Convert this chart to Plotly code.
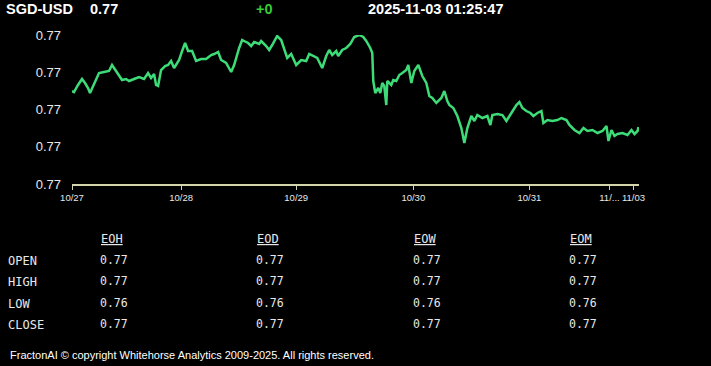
import plotly.graph_objects as go

# ---------------- data ----------------
PAIR = "SGD-USD"
LAST = "0.77"
CHANGE = "+0"
STAMP = "2025-11-03 01:25:47"

BAR_INDEX = [0, 2, 6, 10, 13, 16, 18, 22, 27, 32, 37, 40, 44, 47, 50, 54, 57, 62, 67, 72,
             76, 79, 82, 84, 86, 89, 93, 96, 99, 102, 107, 110, 113, 116, 120, 124, 129, 134, 139, 142,
             146, 149, 154, 159, 162, 167, 170, 172, 176, 179, 182, 187, 189, 194, 197, 200, 205, 209, 212, 215,
             219, 222, 224, 229, 234, 237, 241, 245, 249, 250, 254, 257, 260, 264, 266, 270, 274, 278, 282, 287,
             291, 294, 298, 300, 301, 303, 306, 308, 310, 312, 314, 315, 319, 321, 324, 327, 330, 334, 336, 339,
             342, 346, 350, 354, 357, 360, 364, 369, 372, 375, 377, 381, 385, 389, 392, 395, 399, 402, 405, 410,
             415, 418, 420, 425, 430, 434, 439, 444, 447, 450, 454, 458, 461, 465, 469, 471, 475, 480, 485, 489,
             494, 497, 502, 507, 511, 515, 520, 525, 530, 534, 536, 539, 542, 545, 550, 555, 559, 562, 565, 566]

PRICE = [0.76893, 0.76892, 0.76899, 0.76905, 0.76901, 0.76896, 0.76891, 0.76900, 0.76911, 0.76912,
         0.76913, 0.76919, 0.76913, 0.76909, 0.76904, 0.76905, 0.76903, 0.76905, 0.76907, 0.76905,
         0.76911, 0.76906, 0.76910, 0.76899, 0.76898, 0.76914, 0.76918, 0.76919, 0.76923, 0.76916,
         0.76924, 0.76933, 0.76941, 0.76933, 0.76933, 0.76923, 0.76925, 0.76925, 0.76929, 0.76930,
         0.76932, 0.76924, 0.76921, 0.76912, 0.76919, 0.76936, 0.76944, 0.76943, 0.76941, 0.76938,
         0.76942, 0.76940, 0.76943, 0.76938, 0.76934, 0.76939, 0.76948, 0.76944, 0.76936, 0.76926,
         0.76930, 0.76923, 0.76919, 0.76924, 0.76923, 0.76930, 0.76928, 0.76926, 0.76918, 0.76916,
         0.76928, 0.76934, 0.76929, 0.76933, 0.76928, 0.76934, 0.76936, 0.76940, 0.76947, 0.76949,
         0.76947, 0.76943, 0.76936, 0.76931, 0.76903, 0.76891, 0.76896, 0.76891, 0.76901, 0.76898,
         0.76879, 0.76903, 0.76899, 0.76904, 0.76903, 0.76909, 0.76911, 0.76914, 0.76919, 0.76901,
         0.76913, 0.76919, 0.76908, 0.76901, 0.76888, 0.76886, 0.76881, 0.76886, 0.76893, 0.76883,
         0.76879, 0.76876, 0.76868, 0.76856, 0.76841, 0.76856, 0.76868, 0.76863, 0.76869, 0.76866,
         0.76868, 0.76859, 0.76869, 0.76870, 0.76869, 0.76863, 0.76871, 0.76879, 0.76882, 0.76876,
         0.76873, 0.76871, 0.76868, 0.76871, 0.76873, 0.76861, 0.76864, 0.76863, 0.76864, 0.76866,
         0.76864, 0.76859, 0.76854, 0.76851, 0.76856, 0.76853, 0.76854, 0.76851, 0.76853, 0.76858,
         0.76843, 0.76854, 0.76848, 0.76850, 0.76851, 0.76849, 0.76854, 0.76850, 0.76853, 0.76857]

X_TICK_POS = [0, 109, 224, 341, 457, 537, 561]
X_TICK_TEXT = ["10/27", "10/28", "10/29", "10/30", "10/31", "11/...", "11/03"]
Y_TICKS = [0.768, 0.7683725, 0.768745, 0.7691175, 0.76949]

TABLE_COLS = ["EOH", "EOD", "EOW", "EOM"]
TABLE_ROWS = ["OPEN", "HIGH", "LOW", "CLOSE"]
OPEN_VALS = ["0.77", "0.77", "0.77", "0.77"]
HIGH_VALS = ["0.77", "0.77", "0.77", "0.77"]
LOW_VALS = ["0.76", "0.76", "0.76", "0.76"]
CLOSE_VALS = ["0.77", "0.77", "0.77", "0.77"]
FOOTER = "FractonAI © copyright Whitehorse Analytics 2009-2025. All rights reserved."

# ---------------- layout helpers ----------------
W, H = 711, 366
ML, MR, MT, MB = 72, 72, 35, 182
PW, PH = W - ML - MR, H - MT - MB

SANS = "Arial, 'Liberation Sans', sans-serif"
MONO = "'DejaVu Sans Mono', 'Liberation Mono', monospace"
TXT = "#e8e8e8"


def ann(text, px, py, size, color=TXT, family=SANS, xanchor="left"):
    return dict(text=text, xref="paper", yref="paper",
                x=(px - ML) / PW, y=(H - MB - py) / PH,
                xanchor=xanchor, yanchor="middle", showarrow=False,
                font=dict(size=size, color=color, family=family))


fig = go.Figure()
fig.add_trace(go.Scatter(x=BAR_INDEX, y=PRICE, mode="lines",
                         line=dict(color="#3ddc78", width=2.5), hoverinfo="skip"))

annotations = [
    ann("<b>" + PAIR + "</b>", 4, 9, 14.5, "#ffffff"),
    ann("<b>" + LAST + "</b>", 88, 9, 14.5, "#ffffff"),
    ann("<b>" + CHANGE + "</b>", 254, 9, 14.5, "#33cc33"),
    ann("<b>" + STAMP + "</b>", 366, 9, 14.5, "#ffffff"),
]

col_x = [99, 255, 412, 568]
for cx, name in zip(col_x, TABLE_COLS):
    annotations.append(ann("<u>" + name + "</u>", cx, 239, 12, family=MONO))

row_y = [260, 281, 302.5, 324]
for ry, label, vals in zip(row_y, TABLE_ROWS, [OPEN_VALS, HIGH_VALS, LOW_VALS, CLOSE_VALS]):
    annotations.append(ann(label, 6, ry + 1, 12, family=MONO))
    for cx, v in zip(col_x, vals):
        annotations.append(ann(v, cx - 1, ry, 11.5, family=MONO))

annotations.append(ann(FOOTER, 8, 355, 11, "#ffffff"))

axis_col = "#d2d6aa"
fig.update_layout(
    width=W, height=H,
    margin=dict(l=ML, r=MR, t=MT, b=MB, pad=0),
    paper_bgcolor="#000000", plot_bgcolor="#000000",
    showlegend=False,
    xaxis=dict(range=[0, 566.5], tickvals=X_TICK_POS, ticktext=X_TICK_TEXT,
               tickangle=0,
               showline=True, linecolor=axis_col, linewidth=2,
               ticks="outside", ticklen=4, tickcolor=axis_col, tickwidth=1,
               tickfont=dict(size=9.5, color=TXT, family=SANS),
               showgrid=False, zeroline=False, fixedrange=True),
    yaxis=dict(range=[0.768, 0.76949], tickvals=Y_TICKS, tickformat=".2f",
               tickfont=dict(size=13, color=TXT, family=SANS),
               ticklabelstandoff=10,
               showgrid=False, zeroline=False, showline=False, ticks="",
               fixedrange=True),
    annotations=annotations,
)

fig.write_html("out.html", config={"displayModeBar": False},
               post_script="document.body.style.margin='0';document.body.style.background='#000';")
